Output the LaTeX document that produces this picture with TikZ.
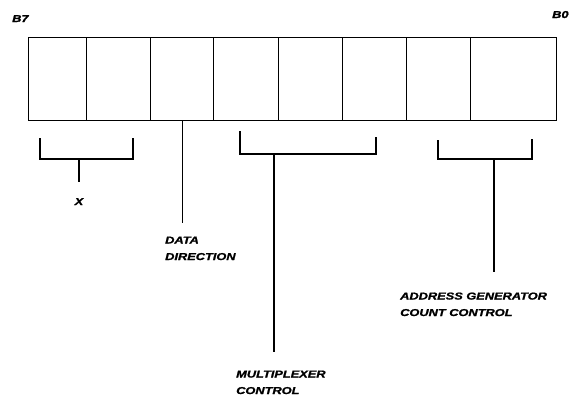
\documentclass[tikz,border=0pt]{standalone}
\usepackage{fontspec}
\newfontfamily\lblfont{Liberation Sans}[FakeStretch=1.28, BoldItalicFeatures={FakeBold=1.5}]
\usepackage{tikz}
\newlength{\cellh}
\setlength{\cellh}{83pt}

\tikzset{
	cell/.style={draw, line width=1.2pt, minimum height=\cellh, inner sep=0pt, anchor=north west},
	brk/.style={line width=1.05pt},
	lbl/.style={font=\lblfont\bfseries\itshape\fontsize{10}{16.5}\selectfont, inner sep=0pt, align=left, anchor=base west}
}

\begin{document}
\begin{tikzpicture}[x=1pt,y=-1pt]
	\useasboundingbox (0,0) rectangle (570,400);

	\node[cell, minimum width=58pt] (b7) at (28,37) {};
	\node[cell, minimum width=64pt] (b6) at (86,37) {};
	\node[cell, minimum width=63pt] (b5) at (150,37) {};
	\node[cell, minimum width=65pt] (b4) at (213,37) {};
	\node[cell, minimum width=64pt] (b3) at (278,37) {};
	\node[cell, minimum width=64pt] (b2) at (342,37) {};
	\node[cell, minimum width=64pt] (b1) at (406,37) {};
	\node[cell, minimum width=86pt] (b0) at (470,37) {};

	\node[lbl] (hi) at (12,22) {B7};
	\node[lbl] (lo) at (552,18) {B0};

	\node[lbl, anchor=base] (lblx) at (79,205) {X};
	\node[lbl] (lbldata) at (165,260) {DATA\\DIRECTION};
	\node[lbl] (lblmux) at (236,394) {MULTIPLEXER\\CONTROL};
	\node[lbl] (lbladdr) at (400,316) {ADDRESS GENERATOR\\COUNT CONTROL};

	\coordinate (xmid) at (79,159);
	\coordinate (xend) at (79,182);
	\coordinate (dend) at (b5.south |- 0,223);
	\coordinate (mmid) at (274,154);
	\coordinate (mend) at (274,352);
	\coordinate (amid) at (494,159);
	\coordinate (aend) at (494,272);

	\draw[brk] (40,138) |- (133,159) -- (133,138);
	\draw[brk] (240,131) |- (376,154) -- (376,137);
	\draw[brk] (438,140) |- (532,159) -- (532,139);

	\draw[brk] (xmid) -- (xend);
	\draw[brk] (b5.south) -- (dend);
	\draw[brk] (mmid) -- (mend);
	\draw[brk] (amid) -- (aend);
\end{tikzpicture}
\end{document}
